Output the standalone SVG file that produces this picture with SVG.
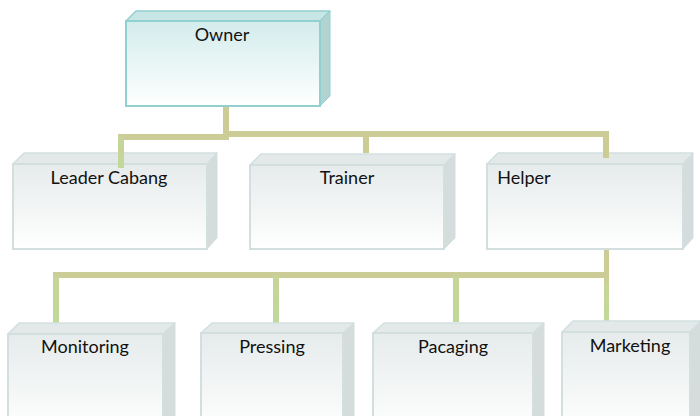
<svg xmlns="http://www.w3.org/2000/svg" width="700" height="416" viewBox="0 0 700 416">
  <defs>
    <linearGradient id="faceGrey" x1="0" y1="0" x2="0" y2="1">
      <stop offset="0" stop-color="#e6ebeb"/>
      <stop offset="1" stop-color="#ffffff"/>
    </linearGradient>
    <linearGradient id="faceTeal" x1="0" y1="0" x2="0" y2="1">
      <stop offset="0" stop-color="#d3ecec"/>
      <stop offset="1" stop-color="#ffffff"/>
    </linearGradient>
    <linearGradient id="drop" x1="0" y1="0" x2="0" y2="1">
      <stop offset="0" stop-color="#cccc96"/>
      <stop offset="0.15" stop-color="#c6d59a"/>
      <stop offset="1" stop-color="#c1d89b"/>
    </linearGradient>
    <style>
      .front { fill: url(#faceGrey); stroke: #d3dfdf; stroke-width: 2; }
      .top { fill: #e3e9e9; stroke: #d3dfdf; stroke-width: 1.5; stroke-linejoin: round; }
      .side { fill: #d5dcdc; stroke: #d3dfdf; stroke-width: 1; stroke-linejoin: round; }
      .owner .front { fill: url(#faceTeal); stroke: #92d0d0; }
      .owner .top { fill: #c9e6e6; stroke: #92d0d0; }
      .owner .side { fill: #b3d3d3; stroke: #92d0d0; }
      .bar { fill: #cccc96; }
      .drop { fill: url(#drop); }
      text { font-family: Lato, "Liberation Sans", sans-serif; font-size: 18px; fill: #111111; text-anchor: middle; }
    </style>
  </defs>

  <!-- connectors -->
  <g id="connectors">
    <!-- owner to second tier -->
    <rect class="bar" x="223" y="105" width="6" height="33"/>
    <rect class="bar" x="118" y="134" width="111" height="6"/>
    <rect class="bar" x="223" y="131" width="386" height="6"/>
    <rect class="drop" x="118" y="134" width="6" height="34"/>
    <rect class="bar" x="363" y="131" width="6" height="22"/>
    <rect class="bar" x="603" y="131" width="6" height="27"/>
    <!-- helper to third tier -->
    <rect class="bar" x="604" y="249" width="5" height="27"/>
    <rect class="bar" x="53" y="272" width="556" height="6"/>
    <rect class="drop" x="53" y="272" width="6" height="51"/>
    <rect class="drop" x="273" y="272" width="6" height="51"/>
    <rect class="drop" x="453" y="272" width="6" height="50"/>
    <rect class="drop" x="604" y="278" width="5" height="50"/>
  </g>

  <!-- first tier -->
  <g id="owner" class="owner">
    <polygon class="top" points="126,21 136,11 330,11 320,21"/>
    <polygon class="side" points="320,21 330,11 330,96 320,106"/>
    <rect class="front" x="126" y="21" width="194" height="85"/>
    <text x="222" y="41">Owner</text>
  </g>

  <!-- second tier -->
  <g id="leader-cabang">
    <polygon class="top" points="13,164 24,153 217,153 207,164"/>
    <polygon class="side" points="207,164 217,153 217,238 207,249"/>
    <rect class="front" x="13" y="164" width="194" height="85"/>
    <text x="109" y="184">Leader Cabang</text>
  </g>
  <rect class="drop" x="118" y="150" width="6" height="18"/>

  <g id="trainer">
    <polygon class="top" points="250,165 261,154 455,154 444,165"/>
    <polygon class="side" points="444,165 455,154 455,238 444,249"/>
    <rect class="front" x="250" y="165" width="194" height="84"/>
    <text x="347" y="184">Trainer</text>
  </g>

  <g id="helper">
    <polygon class="top" points="487,164 498,153 693,153 683,164"/>
    <polygon class="side" points="683,164 693,153 693,238 683,249"/>
    <rect class="front" x="487" y="164" width="196" height="85"/>
    <text x="524" y="184">Helper</text>
  </g>
  <rect class="bar" x="603" y="150" width="6" height="8"/>

  <!-- third tier -->
  <g id="monitoring">
    <polygon class="top" points="8,334 19,323 175,323 163,334"/>
    <polygon class="side" points="163,334 175,323 175,430 163,430"/>
    <rect class="front" x="8" y="334" width="155" height="100"/>
    <text x="85" y="353">Monitoring</text>
  </g>

  <g id="pressing">
    <polygon class="top" points="201,333 212,323 354,323 343,333"/>
    <polygon class="side" points="343,333 354,323 354,430 343,430"/>
    <rect class="front" x="201" y="333" width="142" height="100"/>
    <text x="272" y="353">Pressing</text>
  </g>

  <g id="pacaging">
    <polygon class="top" points="373,333 384,323 544,323 533,333"/>
    <polygon class="side" points="533,333 544,323 544,430 533,430"/>
    <rect class="front" x="373" y="333" width="160" height="100"/>
    <text x="453" y="353">Pacaging</text>
  </g>

  <g id="marketing">
    <polygon class="top" points="562,332 573,321 701,321 690,332"/>
    <polygon class="side" points="690,332 701,321 701,430 690,430"/>
    <rect class="front" x="562" y="332" width="128" height="100"/>
    <text x="630" y="352">Marketing</text>
  </g>
</svg>
